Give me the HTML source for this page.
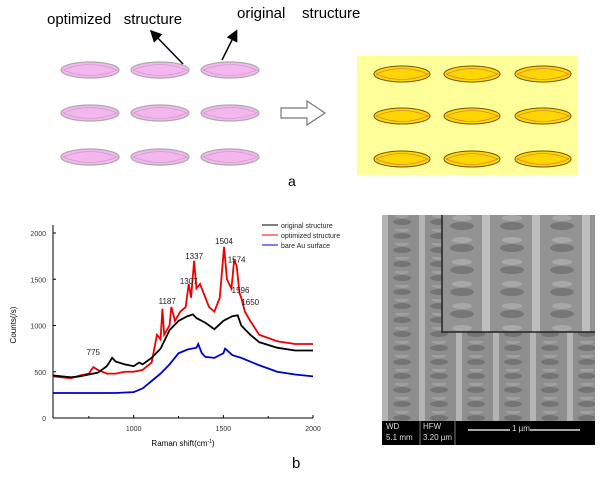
<!DOCTYPE html>
<html><head><meta charset="utf-8"><style>
body{margin:0;background:#fff;width:600px;height:481px;overflow:hidden;position:relative;font-family:"Liberation Sans",sans-serif}
.t{position:absolute;white-space:nowrap}
</style></head><body>
<svg width="600" height="481" style="position:absolute;left:0;top:0">
<defs>
<marker id="ah" markerWidth="8" markerHeight="8" refX="6" refY="4" orient="auto"><path d="M0,0 L8,4 L0,8 Z" fill="#000"/></marker>
<pattern id="semcol" x="382" y="215" width="37" height="14" patternUnits="userSpaceOnUse">
<rect width="37" height="14" fill="#8e8e8e"/>
<rect x="0" width="6" height="14" fill="#b4b4b4"/>
<ellipse cx="20" cy="7" rx="9" ry="3" fill="#747474"/>
<ellipse cx="20" cy="1" rx="7" ry="2" fill="#a0a0a0"/>
</pattern>
<pattern id="seminset" x="442" y="215" width="50" height="22" patternUnits="userSpaceOnUse">
<rect width="50" height="22" fill="#939393"/>
<rect x="40" width="8" height="22" fill="#bdbdbd"/>
<ellipse cx="20" cy="11" rx="12" ry="4" fill="#777"/>
<ellipse cx="20" cy="3" rx="10" ry="3" fill="#a8a8a8"/>
</pattern>
</defs>
<g>
<g id="pink"></g>
</g>
<line x1="183" y1="64" x2="152" y2="32" stroke="#000" stroke-width="1.5" marker-end="url(#ah)"/>
<line x1="222" y1="60" x2="236" y2="32" stroke="#000" stroke-width="1.5" marker-end="url(#ah)"/>
<path d="M281,108 L307,108 L307,101 L325,113 L307,125 L307,118 L281,118 Z" fill="#fff" stroke="#777" stroke-width="1.2"/>
<rect x="357" y="56" width="221" height="119" fill="#ffff99"/>
<g id="yel"></g>
<g id="sem">
<rect x="382" y="215" width="213" height="206" fill="url(#semcol)"/>
<rect x="442" y="215" width="153" height="117" fill="url(#seminset)"/>
<path d="M442,215 L442,332 L595,332" fill="none" stroke="#222" stroke-width="1.5"/>
<rect x="382" y="421" width="213" height="24" fill="#000"/>
<line x1="420" y1="421" x2="420" y2="445" stroke="#777"/>
<line x1="455" y1="421" x2="455" y2="445" stroke="#777"/>
<line x1="468" y1="430" x2="510" y2="430" stroke="#ddd" stroke-width="1.5"/>
<line x1="530" y1="430" x2="580" y2="430" stroke="#ddd" stroke-width="1.5"/>
</g>
<g id="chart"></g>
</svg>
<div class="t" style="left:47px;top:11px;font-size:15px">optimized&nbsp;&nbsp; structure</div>
<div class="t" style="left:237px;top:5px;font-size:15px">original&nbsp;&nbsp;&nbsp; structure</div>
<div class="t" style="left:288px;top:173px;font-size:14px">a</div>
<div class="t" style="left:292px;top:455px;font-size:15px">b</div>
<div class="t" style="left:386px;top:421px;font-size:8px;color:#ddd;line-height:11px">WD<br>5.1 mm</div>
<div class="t" style="left:423px;top:421px;font-size:8px;color:#ddd;line-height:11px">HFW<br>3.20 µm</div>
<div class="t" style="left:512px;top:424px;font-size:8px;color:#ddd">1 µm</div>
<script>
const NS='http://www.w3.org/2000/svg';
function mk(p,t,a){const e=document.createElementNS(NS,t);for(const k in a)e.setAttribute(k,a[k]);p.appendChild(e);return e;}
const pink=document.getElementById('pink');
[90,160,230].forEach(cx=>[70,113,157].forEach(cy=>{
 const e=mk(pink,'ellipse',{cx:cx,cy:cy,rx:29,ry:8,fill:'#f2b8ee',stroke:'#aaa','stroke-width':1.2});
 
 
 mk(pink,'path',{d:`M${cx-27},${cy} Q${cx},${cy-11} ${cx+27},${cy} Q${cx},${cy+11} ${cx-27},${cy}`,fill:'none',stroke:'#d49ad0','stroke-width':0.7});
}));
const yel=document.getElementById('yel');
[402,472,543].forEach(cx=>[74,116,159].forEach(cy=>{
 const e=mk(yel,'ellipse',{cx:cx,cy:cy,rx:28,ry:8,fill:'#ffd700',stroke:'#6b5a00','stroke-width':1});
 
 
 mk(yel,'path',{d:`M${cx-26},${cy} Q${cx},${cy-11} ${cx+26},${cy} Q${cx},${cy+11} ${cx-26},${cy}`,fill:'none',stroke:'#e08040','stroke-width':0.8});
}));

const xTicks=[1000,1500,2000];
const yTicks=[0,500,1000,1500,2000];
const blackX=[550,600,650,700,750,800,850,880,900,950,1000,1030,1050,1100,1150,1200,1250,1300,1330,1350,1400,1450,1500,1550,1580,1600,1650,1700,1800,1900,2000];
const blackY=[460,450,440,450,470,490,560,650,610,580,560,600,580,650,750,950,1050,1100,1120,1080,1030,960,1050,1100,1110,1000,900,820,760,730,730];
const redX=[550,600,650,700,750,775,800,850,900,950,1000,1050,1100,1130,1150,1160,1170,1200,1210,1230,1260,1290,1307,1320,1337,1350,1370,1400,1420,1450,1480,1504,1520,1545,1560,1574,1590,1600,1620,1650,1700,1800,1900,2000];
const redY=[450,440,430,460,480,550,520,480,480,500,500,520,600,900,850,1180,900,1000,1200,1050,1150,1200,1450,1300,1700,1400,1450,1300,1200,1150,1300,1850,1500,1400,1700,1650,1350,1300,1150,1050,900,830,800,800];
const blueX=[550,600,700,800,900,1000,1050,1100,1150,1200,1250,1300,1350,1360,1380,1400,1450,1500,1510,1550,1600,1700,1800,1900,2000];
const blueY=[270,270,270,270,270,280,320,400,480,580,700,740,760,800,700,660,650,700,750,680,650,570,500,470,450];
const peakLabels=['775','1187','1307','1337','1504','1574','1596','1650'];
const peakX=[775,1187,1307,1337,1504,1574,1596,1650];
const peakY=[680,1230,1450,1720,1880,1680,1350,1220];
const legendNames=['original structure','optimized structure','bare Au surface'];
const legendColors=['#000','#e00','#00c'];

const X=v=>53+(v-550)*(260/1450);
const Y=v=>418-v*(185/2000);
const g=document.getElementById('chart');
mk(g,'line',{x1:53,y1:225,x2:53,y2:418,stroke:'#000','stroke-width':1});
mk(g,'line',{x1:53,y1:418,x2:313,y2:418,stroke:'#000','stroke-width':1});
yTicks.forEach(v=>{mk(g,'line',{x1:53,y1:Y(v),x2:56,y2:Y(v),stroke:'#000'});
 const t=mk(g,'text',{x:46,y:Y(v)+3,'font-size':7,'text-anchor':'end',fill:'#333'});t.textContent=v;
 });
xTicks.forEach(v=>{mk(g,'line',{x1:X(v),y1:418,x2:X(v),y2:415,stroke:'#000'});
 const t=mk(g,'text',{x:X(v),y:431,'font-size':7,'text-anchor':'middle',fill:'#333'});t.textContent=v;
 });
[750,1250,1750].forEach(v=>mk(g,'line',{x1:X(v),y1:418,x2:X(v),y2:416,stroke:'#000'}));
const yl=mk(g,'text',{x:0,y:0,'font-size':8,'text-anchor':'middle',transform:'translate(16,325) rotate(-90)'});yl.textContent='Counts(/s)';

const xl=mk(g,'text',{x:183,y:446,'font-size':8,'text-anchor':'middle'});xl.innerHTML='Raman shift(cm<tspan font-size="5" dy="-3">-1</tspan><tspan dy="3">)</tspan>';

function series(xs,ys,c,n){const p=mk(g,'polyline',{points:xs.map((x,i)=>X(x)+','+Y(ys[i])).join(' '),fill:'none',stroke:c,'stroke-width':1.8});
 }
series(blueX,blueY,'#00c','series-bare-au');
series(redX,redY,'#e00','series-optimized');
series(blackX,blackY,'#000','series-original');
peakLabels.forEach((l,i)=>{const t=mk(g,'text',{x:X(peakX[i]),y:Y(peakY[i]),'font-size':8,'text-anchor':'middle',fill:'#222'});t.textContent=l;
 });
legendNames.forEach((n,i)=>{const y=225+i*10;
 mk(g,'line',{x1:262,y1:y,x2:278,y2:y,stroke:legendColors[i],'stroke-width':1});
 const t=mk(g,'text',{x:281,y:y+3,'font-size':7,fill:'#222'});t.textContent=n;
 });
</script>
</body></html>
